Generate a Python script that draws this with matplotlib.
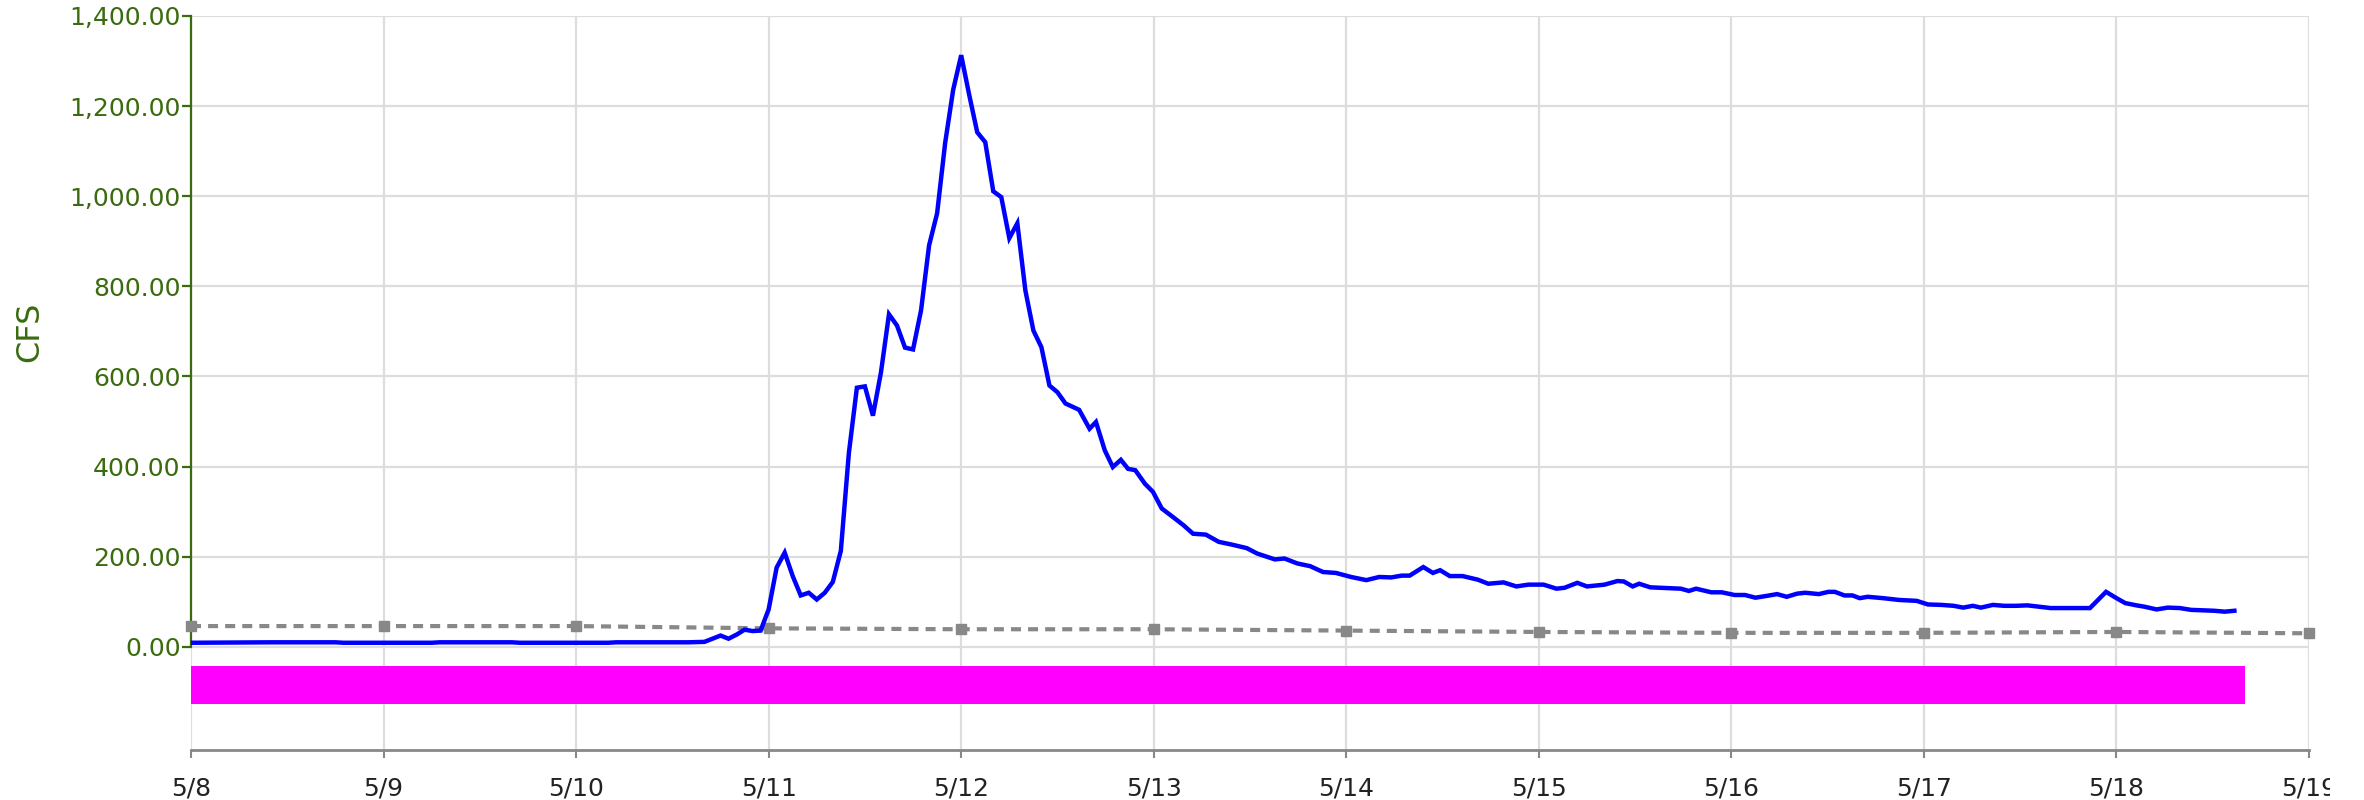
import matplotlib
matplotlib.use('Agg')
import matplotlib.pyplot as plt
import matplotlib.dates as mdates
from matplotlib.ticker import FuncFormatter, FixedLocator
from matplotlib.transforms import Bbox
import pandas as pd

# ---------------- data ----------------
start = pd.Timestamp('2024-05-08 00:00')

# hours since 5/8 00:00 and discharge (CFS)
flow_hours = [0, 10, 18, 19, 30, 31, 40, 41, 52, 53, 62, 64,
              65, 66, 67, 68, 69, 70, 71, 72, 73, 74, 75, 76, 77, 78, 79, 80,
              81, 82, 83, 84, 85, 86, 87, 88, 89, 90, 91, 92, 93, 94, 95, 96,
              97, 98, 99, 100, 101, 102, 103, 104, 105, 106, 107, 108, 109,
              110.7, 112, 112.8, 113.9, 114.9, 115.9, 116.8, 117.7, 118.9, 119.9,
              121.0, 122.4, 123.7, 124.9, 126.5, 128.1, 129.7, 131.6, 132.9,
              135.1, 136.3, 137.9, 139.5, 141.1, 142.7, 144.6, 146.5, 148.1,
              149.6, 150.9, 151.9, 153.6, 154.8, 155.7, 156.9, 158.5, 160.4,
              161.7, 163.6, 165.2, 166.7, 168.6, 170.2, 171.2, 172.8, 174.0,
              176.2, 177.8, 178.6, 179.7, 180.5, 181.9, 183.2, 185.7, 186.7,
              187.6, 189.5, 190.8, 192.4, 193.7, 195.0, 196.4, 197.7, 198.9,
              200.2, 201.2, 202.9, 204.1, 204.9, 206.1, 207.1, 208.0, 209.0,
              210.9, 212.9, 215.1, 216.5, 218.2, 219.7, 220.9, 222.1, 223.1,
              224.6, 226.0, 227.5, 228.9, 230.4, 231.8, 233.3, 235.2, 236.7,
              238.7, 240.1, 241.1, 242.5, 243.5, 245.0, 246.4, 247.9, 249.3,
              250.8, 252.2, 253.5, 254.7]
flow_cfs = [9, 10, 10, 9, 9, 10, 10, 9, 9, 10, 10, 11,
            18, 25, 18, 27, 38, 35, 36, 83, 176, 209, 157, 114, 120, 105, 120, 144,
            213, 430, 575, 578, 513, 609, 738, 713, 664, 660, 747, 891, 962, 1118, 1236, 1313,
            1225, 1142, 1120, 1011, 998, 907, 940, 791, 702, 665, 580, 565, 540,
            526, 484, 499, 436, 399, 415, 395, 392, 362, 344,
            307, 288, 270, 251, 249, 233, 227, 219, 207,
            194, 196, 185, 179, 166, 164, 155, 148, 155,
            154, 158, 158, 177, 164, 170, 157, 157, 149,
            140, 143, 134, 138, 138, 129, 131, 142, 134,
            138, 146, 145, 134, 140, 132, 131, 129, 124,
            129, 121, 121, 115, 115, 109, 113, 117, 111,
            118, 120, 117, 122, 122, 114, 114, 108, 111,
            108, 104, 102, 94, 93, 91, 87, 91, 87,
            93, 91, 91, 92, 89, 86, 86, 86, 86,
            122, 107, 97, 92, 89, 83, 87, 86, 82,
            81, 80, 78, 80]

# daily reference (dashed gray) values
ref_dates = ['2024-05-08', '2024-05-09', '2024-05-10', '2024-05-11', '2024-05-12',
             '2024-05-13', '2024-05-14', '2024-05-15', '2024-05-16', '2024-05-17',
             '2024-05-18', '2024-05-19']
ref_cfs = [46, 46, 46, 41, 39, 39, 36, 33, 31, 31, 33, 30]

# availability bar (magenta)
bar_start_hour = 0
bar_end_hour = 256
bar_low = -127
bar_high = -42

tick_labels = ['5/8', '5/9', '5/10', '5/11', '5/12', '5/13', '5/14', '5/15',
               '5/16', '5/17', '5/18', '5/19']
y_ticks = [0, 200, 400, 600, 800, 1000, 1200, 1400]

# ---------------- plot ----------------
GREEN = '#3a6b0e'
W, H = 2364, 800
fig = plt.figure(figsize=(W / 100, H / 100), dpi=100)
ax = fig.add_axes([191 / W, 1 - 750 / H, (2309 - 191) / W, (750 - 16) / H])

times = [start + pd.Timedelta(hours=h) for h in flow_hours]
rtimes = pd.to_datetime(ref_dates)

ax.fill_between([start + pd.Timedelta(hours=bar_start_hour),
                 start + pd.Timedelta(hours=bar_end_hour)],
                bar_low, bar_high, color='#ff00ff', lw=0, zorder=2)

ax.plot(rtimes, ref_cfs, color='#888888', lw=3.0, dashes=(2.4, 1.7),
        dash_capstyle='butt', marker='s', markersize=6.5, zorder=3, clip_on=False)

ax.plot(times, flow_cfs, color='#0000ff', lw=3.2, solid_joinstyle='miter', zorder=4)

ax.set_xlim(pd.Timestamp('2024-05-08'), pd.Timestamp('2024-05-19'))
ax.set_ylim(-229, 1400)

tick_dates = pd.date_range('2024-05-08', '2024-05-19', freq='D')
ax.xaxis.set_major_locator(FixedLocator(mdates.date2num(tick_dates)))
ax.set_xticklabels(tick_labels)
ax.yaxis.set_major_locator(FixedLocator(y_ticks))
ax.yaxis.set_major_formatter(FuncFormatter(lambda v, p: f'{v:,.2f}'))

ax.set_axisbelow(True)
ax.grid(True, color='#dddddd', lw=1.6)

for s in ('top', 'right'):
    ax.spines[s].set_visible(False)
ax.spines['left'].set_color(GREEN)
ax.spines['left'].set_linewidth(1.6)
ax.spines['left'].set_bounds(0, 1400)
ax.spines['bottom'].set_color('#888888')
ax.spines['bottom'].set_linewidth(2.0)

ax.tick_params(axis='y', colors=GREEN, labelcolor=GREEN, length=6.5, width=1.6,
               pad=1, labelsize=18)
ax.tick_params(axis='x', colors='#888888', labelcolor='#222222', length=6, width=1.5,
               pad=13, labelsize=18)

fig.text(30 / W, 1 - 332 / H, 'CFS', rotation=90, color=GREEN, fontsize=23,
         ha='center', va='center')

# the last date label is clipped at the chart's right boundary
last = ax.xaxis.get_major_ticks()[-1].label1
last.set_clip_on(True)
last.set_clip_box(Bbox.from_extents(0, 0, 2330, H))

fig.savefig('out.png', dpi=100)
